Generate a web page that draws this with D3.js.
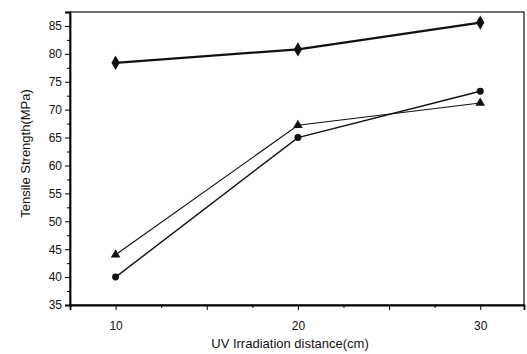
<!DOCTYPE html>
<html>
<head>
<meta charset="utf-8">
<script src="https://cdn.jsdelivr.net/npm/d3@7"></script>
<style>
  body { margin: 0; background: #fff; }
  text { font-family: "Liberation Sans", Arial, sans-serif; fill: #111; }
</style>
</head>
<body>
<svg id="chart" width="527" height="354"></svg>
<script>
// data
const distance = [10, 20, 30];
const diamondSeries = [78.4, 80.8, 85.6];
const circleSeries = [40.0, 65.0, 73.3];
const triangleSeries = [44.0, 67.2, 71.2];
const xLabels = [10, 20, 30];
const yLabels = [35, 40, 45, 50, 55, 60, 65, 70, 75, 80, 85];

const margin = { left: 70, top: 12, right: 3, bottom: 49 };
const width = 527;
const height = 354;
const svg = d3.select('#chart');

const x = d3.scaleLinear().domain([7.5, 32.4]).range([margin.left, width - margin.right]);
const y = d3.scaleLinear().domain([35, 87.5]).range([height - margin.bottom, margin.top]);

const plotBottom = height - margin.bottom;

// frame
svg.append('rect')
  .attr('x', margin.left)
  .attr('y', margin.top)
  .attr('width', width - margin.right - margin.left)
  .attr('height', plotBottom - margin.top)
  .attr('fill', 'none')
  .attr('stroke', '#111')
  .attr('stroke-width', 1.2);

// y axis
const yMinor = d3.range(37.5, 87.5, 5);
svg.append('g')
  .attr('transform', `translate(${margin.left},0)`)
  .call(d3.axisLeft(y).tickValues(yMinor).tickSize(3).tickFormat(''))
  .call(g => g.select('.domain').remove());
const yAxis = svg.append('g')
  .attr('transform', `translate(${margin.left},0)`)
  .call(d3.axisLeft(y).tickValues(yLabels).tickSize(5).tickPadding(3));
yAxis.select('.domain').attr('stroke-width', 1.8);
yAxis.selectAll('text').style('font-size', '12px').style('font-family', '"Liberation Sans", Arial, sans-serif');

// x axis
const xMinor = [12.5, 17.5, 22.5, 27.5];
svg.append('g')
  .attr('transform', `translate(0,${plotBottom})`)
  .call(d3.axisBottom(x).tickValues(xMinor).tickSize(3).tickFormat(''))
  .call(g => g.select('.domain').remove());
const xAxis = svg.append('g')
  .attr('transform', `translate(0,${plotBottom})`)
  .call(d3.axisBottom(x).tickValues([10, 15, 20, 25, 30]).tickSize(5).tickPadding(11)
    .tickFormat(d => xLabels.includes(d) ? d : ''));
xAxis.select('.domain').attr('stroke-width', 1.8);
xAxis.selectAll('text').style('font-size', '12px').style('font-family', '"Liberation Sans", Arial, sans-serif');

// axis titles
svg.append('text')
  .attr('transform', `translate(30,${(margin.top + plotBottom) / 2 - 5}) rotate(-90)`)
  .attr('text-anchor', 'middle')
  .style('font-size', '13px')
  .text('Tensile Strength(MPa)');
svg.append('text')
  .attr('x', 290)
  .attr('y', 348)
  .attr('text-anchor', 'middle')
  .style('font-size', '13px')
  .text('UV Irradiation distance(cm)');

const line = d3.line().x(d => x(d[0])).y(d => y(d[1]));

function drawSeries(values, strokeWidth, symbol, size) {
  const pts = distance.map((d, i) => [d, values[i]]);
  svg.append('path')
    .datum(pts)
    .attr('d', line)
    .attr('fill', 'none')
    .attr('stroke', '#111')
    .attr('stroke-width', strokeWidth);
  svg.append('g')
    .selectAll('path')
    .data(pts)
    .join('path')
    .attr('transform', d => `translate(${x(d[0])},${y(d[1])})`)
    .attr('d', d3.symbol().type(symbol).size(size))
    .attr('fill', '#111');
}

drawSeries(triangleSeries, 1.1, d3.symbolTriangle, 40);
drawSeries(circleSeries, 1.4, d3.symbolCircle, 38);
drawSeries(diamondSeries, 2.2, d3.symbolDiamond, 60);
</script>
</body>
</html>
